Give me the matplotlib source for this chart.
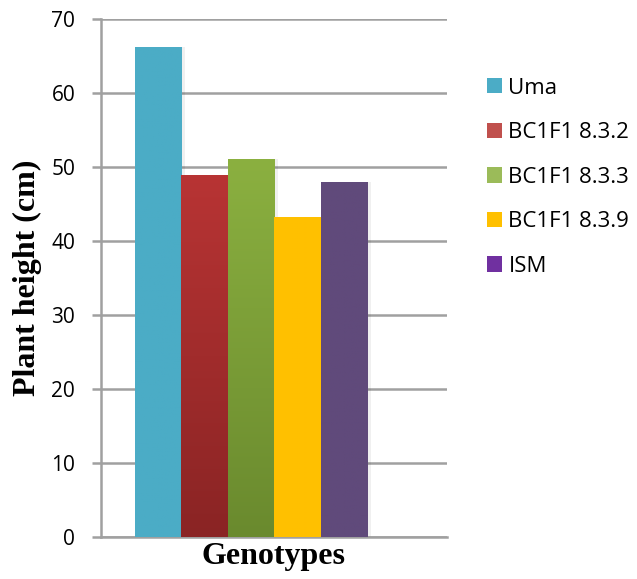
import matplotlib
matplotlib.use("Agg")
import matplotlib.pyplot as plt
import numpy as np
from matplotlib.colors import LinearSegmentedColormap
from matplotlib.patches import Patch

genotypes = ["Uma", "BC1F1 8.3.2", "BC1F1 8.3.3", "BC1F1 8.3.9", "ISM"]
heights = [66.3, 49.0, 51.1, 43.2, 48.0]
# bar fill: (top colour, bottom colour)
bar_colors = [("#4BACC6", "#4BACC6"), ("#B83434", "#8A2424"), ("#8BB040", "#6A8A2E"),
              ("#FFC000", "#FFC000"), ("#604A7B", "#604A7B")]
legend_colors = ["#4BACC6", "#C0504D", "#9BBB59", "#FFC000", "#7030A0"]

fig = plt.figure(figsize=(6.37, 5.79), dpi=100)
ax = fig.add_axes([0.158, 0.073, 0.5433, 0.8937])

x = np.arange(len(genotypes))
bars = ax.bar(x, heights, width=1.0, color="none", zorder=3)
for b, (top, bottom) in zip(bars, bar_colors):
    cmap = LinearSegmentedColormap.from_list("g", [bottom, top])
    x0, y0 = b.get_x(), b.get_y()
    im = ax.imshow(np.linspace(0, 1, 256).reshape(-1, 1), cmap=cmap, origin="lower",
                   extent=[x0, x0 + b.get_width(), y0, y0 + b.get_height()],
                   aspect="auto", zorder=3)
    im.set_clip_path(b)
    # soft shadow on the right side
    ax.bar(x0 + b.get_width() + 0.04, b.get_height(), width=0.08, color="#000000",
           alpha=0.06, zorder=2)

ax.set_xlim(-1.239, 6.218)
ax.set_ylim(0, 70)
ax.set_yticks(range(0, 71, 10))
ax.set_xticks([])
ax.yaxis.grid(True, color="#A0A0A0", linewidth=1.8, zorder=0)
ax.set_axisbelow(True)
for s in ["top", "right"]:
    ax.spines[s].set_visible(False)
for s in ["left", "bottom"]:
    ax.spines[s].set_color("#A0A0A0")
    ax.spines[s].set_linewidth(1.8)
ax.tick_params(axis="y", length=6.3, width=1.8, color="#A0A0A0", pad=12,
               labelsize=15, labelcolor="#000000")
for t in ax.get_yticklabels():
    t.set_family("Open Sans")

ax.set_ylabel("Plant height (cm)", family="Liberation Serif", fontweight="bold",
              fontsize=23, labelpad=7)
ax.set_xlabel("Genotypes", family="Liberation Serif", fontweight="bold",
              fontsize=23, labelpad=4)

handles = [Patch(facecolor=c, edgecolor="none") for c in legend_colors]
fig.legend(handles, genotypes, loc="upper left", bbox_to_anchor=(0.764, 0.866),
           frameon=False, prop={"family": "Open Sans", "size": 16},
           handlelength=0.68, handleheight=0.68, handletextpad=0.3,
           labelspacing=1.06, borderaxespad=0, borderpad=0)

fig.savefig("out.png", dpi=100)
